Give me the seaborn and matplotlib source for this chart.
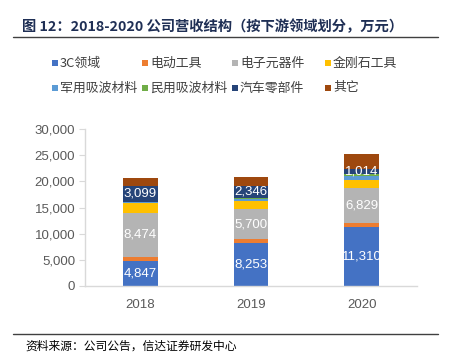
import numpy as np
import matplotlib
matplotlib.use("Agg")
import matplotlib.pyplot as plt
from matplotlib.patches import Rectangle
from matplotlib.lines import Line2D
import seaborn as sns
import pandas as pd

years = ["2018", "2019", "2020"]
segments = ["3C领域", "电动工具", "电子元器件", "金刚石工具",
            "军用吸波材料", "民用吸波材料", "汽车零部件", "其它"]
v_3c = [4847, 8253, 11310]
v_tools = [700, 690, 650]
v_elec = [8474, 5700, 6829]
v_diamond = [1800, 1650, 1400]
v_mil = [150, 300, 820]
v_civ = [100, 200, 320]
v_auto = [3099, 2346, 1014]
v_other = [1470, 1660, 2870]
labelled = ["3C领域", "电子元器件", "汽车零部件"]

colors = ["#4472C4", "#ED7D31", "#B4B4B4", "#FFC000",
          "#5B9BD5", "#70AD47", "#264478", "#9E480E"]

df = pd.DataFrame([v_3c, v_tools, v_elec, v_diamond, v_mil, v_civ, v_auto, v_other],
                  index=segments, columns=years).T
cum = df.cumsum(axis=1)

sns.set_style("white")
plt.rcParams['font.family'] = ['Liberation Sans', 'Noto Sans CJK SC', 'DejaVu Sans']

fig = plt.figure(figsize=(4.53, 3.58), dpi=100)
ax = fig.add_axes([85 / 453, 1 - 286 / 358, 332 / 453, 157 / 358])

# stacked bars: draw cumulative totals from the top segment down
for seg, c in reversed(list(zip(segments, colors))):
    sns.barplot(x=years, y=cum[seg].values, color=c, width=0.315,
                saturation=1, linewidth=0, ax=ax)

for seg in labelled:
    mids = cum[seg] - df[seg] / 2
    for i, y in enumerate(years):
        ax.text(i, mids[y], f"{df.loc[y, seg]:,}", ha="center", va="center",
                color="white", fontsize=9.5)

ax.set_xlim(-0.5, 2.5)
ax.set_ylim(0, 30000)
ax.set_yticks(range(0, 30001, 5000))
ax.yaxis.set_major_formatter(matplotlib.ticker.StrMethodFormatter("{x:,.0f}"))
ax.tick_params(axis="y", left=True, length=4, color="#D9D9D9", labelsize=9.5,
               labelcolor="#595959", pad=3)
ax.tick_params(axis="x", bottom=False, labelsize=9.5, labelcolor="#595959", pad=6)
for s in ["top", "right"]:
    ax.spines[s].set_visible(False)
for s in ["left", "bottom"]:
    ax.spines[s].set_color("#D9D9D9")
    ax.spines[s].set_linewidth(1)
ax.set_xlabel("")
ax.set_ylabel("")

# legend laid out in a 4 x 2 grid, row by row
col_x = [52, 142, 232, 325]
row_y = [63, 88]
for k, (seg, c) in enumerate(zip(segments, colors)):
    px, py = col_x[k % 4], row_y[k // 4]
    fig.add_artist(Rectangle((px / 453, 1 - (py + 3) / 358), 6 / 453, 6 / 358,
                             facecolor=c, edgecolor="none", transform=fig.transFigure))
    fig.text((px + 8) / 453, 1 - py / 358, seg, fontsize=9.3, color="#404040",
             va="center", ha="left", family=["Noto Sans CJK SC", "DejaVu Sans"])

fig.text(22 / 453, 1 - 27 / 358, "图 12：2018-2020 公司营收结构（按下游领域划分，万元）",
         fontsize=10.3, fontweight="bold", color="#1F2F55", va="center", ha="left",
         family=["Noto Sans CJK SC", "DejaVu Sans"])
fig.add_artist(Line2D([13 / 453, 438 / 453], [1 - 37 / 358, 1 - 37 / 358],
                      color="#404040", linewidth=1, transform=fig.transFigure))
fig.add_artist(Line2D([13 / 453, 438 / 453], [1 - 334 / 358, 1 - 334 / 358],
                      color="#404040", linewidth=1, transform=fig.transFigure))
fig.text(25 / 453, 1 - 346 / 358, "资料来源：公司公告，信达证券研发中心",
         fontsize=8.5, color="black", va="center", ha="left",
         family=["Noto Sans CJK SC", "DejaVu Sans"])

fig.savefig("out.png", dpi=100)
